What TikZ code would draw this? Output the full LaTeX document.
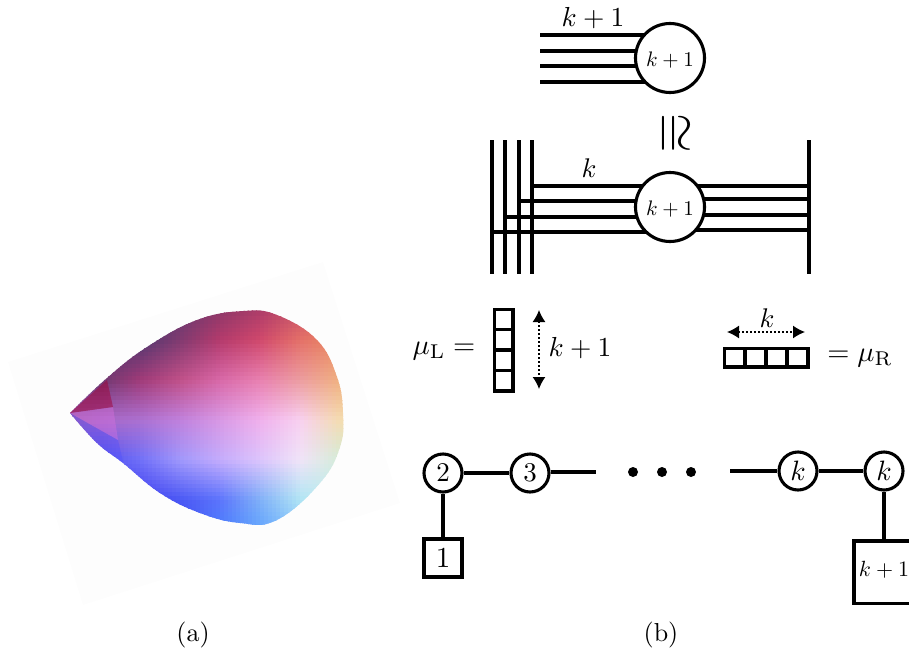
\documentclass[tikz,border=0pt]{standalone}
\usepackage{amsmath,amssymb}
\usetikzlibrary{arrows.meta,backgrounds,calc}
\pgfdeclarelayer{lines}
\pgfsetlayers{background,lines,main}
\definecolor{pagefaint}{HTML}{FDFDFD}
\tikzset{
  x=1pt,y=-1pt,
  qline/.style={draw=black,line width=3.6pt},
  ring/.style={circle,draw=black,line width=3.1pt,fill=white,inner sep=0pt,minimum size=#1},
  sq/.style={rectangle,draw=black,line width=3.6pt,fill=white,inner sep=0pt},
  lab/.style={inner sep=0pt,outer sep=0pt,scale=#1},
  dotarrow/.style={line width=1.3pt,dash pattern=on 1.3pt off 2.7pt,{Latex[length=12pt,width=13pt]}-{Latex[length=12pt,width=13pt]}}
}
% colour table for the surface: rows every 40 units from y=300, columns every 40 from x=60
\makeatletter
\def\splithex#1#2#3#4#5#6{%
  \expandafter\xdef\csname tR-\ii-\tblj\endcsname{\number"#1#2 }%
  \expandafter\xdef\csname tG-\ii-\tblj\endcsname{\number"#3#4 }%
  \expandafter\xdef\csname tB-\ii-\tblj\endcsname{\number"#5#6 }}
\newcommand\tblrow[2]{\def\tblj{#1}%
  \foreach \hx [count=\ii from 0] in {#2}{\expandafter\splithex\hx}}
\makeatother
\tblrow{0}{503070,503070,503070,603870,803868,A03868,C04868,D85860,D85860}
\tblrow{1}{583470,583470,503870,803A70,B43A6C,D0486C,E47068,EA8860,EA8860}
\tblrow{2}{783878,6C3870,A03A78,C05088,D868A8,E880B0,EC9CA0,F0B080,F0B080}
\tblrow{3}{9C60B0,A868C8,AC70D0,C080DC,D898E4,F0B0EC,F8D0F0,F4DCB0,F4DCB0}
\tblrow{4}{5050F0,5050F0,7070F8,A098FC,C4ACFC,DCC4FC,F0E4F8,D4ECD8,D4ECD8}
\tblrow{5}{4040F0,4040F0,4040F0,4A58F4,5C74FC,80B0F8,B0E4F4,C0F0F0,C0F0F0}
\tblrow{6}{4040F0,4040F0,4040F0,4048F0,4480FC,58A0FF,80C0FF,90D0F8,90D0F8}
\newcount\ci \newcount\cj \newcount\fx \newcount\fy
\newcommand\mixch[1]{\the\numexpr((40-\fx)*((40-\fy)*\csname t#1-\the\ci-\the\cj\endcsname
  +\fy*\csname t#1-\the\ci-\the\numexpr\cj+1\relax\endcsname)
  +\fx*((40-\fy)*\csname t#1-\the\numexpr\ci+1\relax-\the\cj\endcsname
  +\fy*\csname t#1-\the\numexpr\ci+1\relax-\the\numexpr\cj+1\relax\endcsname))/1600\relax}
\begin{document}
\begin{tikzpicture}
\useasboundingbox (0,0) rectangle (909,653);
% (a)
\fill[pagefaint] (323,262) -- (400,503) -- (83,605) -- (8,362) -- cycle;
\begin{scope}
\clip plot[smooth,tension=0.7] coordinates {(70,413) (107,378) (147,347) (197,320) (243,311) (277,315) (317,340) (337,377) (343,413) (340,447) (320,483) (277,520) (240,523) (200,513) (160,493) (123,463) (97,443) (70,413)} -- cycle;
\foreach \cx in {64,68,...,344}{
  \foreach \cy in {304,308,...,528}{
    \ci=\numexpr\cx-60+2\relax \divide\ci by 40
    \cj=\numexpr\cy-300+2\relax \divide\cj by 40
    \fx=\numexpr\cx+2-60-40*\ci\relax
    \fy=\numexpr\cy+2-300-40*\cj\relax
    \definecolor{cellc}{RGB}{\mixch{R},\mixch{G},\mixch{B}}
    \fill[cellc] (\cx,\cy) rectangle ++(4.5,4.5);
  }
}
\fill[fill=blue!70!white,opacity=.35] (70,413) -- (118,440) -- (125,470) -- (85,440) -- cycle;
\fill[fill=violet!40!magenta!55!white,opacity=.35] (70,413) -- (113,407) -- (118,440) -- cycle;
\fill[fill=purple!85!black,opacity=.5] (70,413) -- (107,380) -- (113,407) -- cycle;
\end{scope}
\node[lab=2.6] (capa) at (193,635) {(a)};
% top quiver
\node[ring=69pt] (topc) at (670,58) {};
\node[lab=2.1] (topl) at (670,60) {$k+1$};
\node[lab=2.75] (kp) at (593,18) {$k+1$};
\foreach \i/\y in {1/35,2/51,3/66,4/82}{
  \coordinate (ta\i) at (540,\y);
  \begin{pgfonlayer}{lines}
    \draw[qline] (ta\i) -- (ta\i -| topc.center);
  \end{pgfonlayer}
}
% isomorphism
\node[inner sep=0pt,rotate=-90] (iso) at (673,133) {\scalebox{5.1}[5.2]{$\cong$}};
% lower quiver
\node[ring=69pt] (midc) at (670,207) {};
\node[lab=2.1] (midl) at (670,209) {$k+1$};
\node[lab=2.7] (kk) at (589,168) {$k$};
\foreach \i/\x in {1/532,2/519,3/505,4/492}{
  \coordinate (vt\i) at (\x,140);
  \coordinate (vb\i) at (\x,274);
  \draw[qline] (vt\i) -- (vb\i);
}
\coordinate (rt) at (809,140);
\coordinate (rb) at (809,274);
\draw[qline] (rt) -- (rb);
\begin{pgfonlayer}{lines}
\foreach \i/\y/\yr in {1/186/186,2/201/199,3/217/215,4/232/230}{
  \coordinate (ls\i) at (vt\i |- 0,\y);
  \coordinate (rs\i) at (rt |- 0,\yr);
  \draw[qline] (ls\i) -- (ls\i -| midc.center);
  \draw[qline] (rs\i) -- (rs\i -| midc.center);
}
\end{pgfonlayer}
% tableaux
\foreach \y in {0,1,2,3}{
  \draw[line width=3.6pt] (494.3,{309.3+\y*20.35}) rectangle (512.7,{309.3+(\y+1)*20.35});
}
\foreach \x in {0,1,2,3}{
  \draw[line width=3.6pt] ({724.3+\x*20.85},348.3) rectangle ({724.3+(\x+1)*20.85},366.7);
}
\node[lab=2.85] (mul) at (444,351) {$\mu_{\mathrm{L}}=$};
\node[lab=2.75] (kpb) at (580,348) {$k+1$};
\coordinate (ua) at (539,310);
\coordinate (ub) at (539,389);
\draw[dotarrow] (ua) -- (ub);
\coordinate (ra) at (727,332);
\coordinate (rc) at (805,332);
\draw[dotarrow] (ra) -- (rc);
\node[lab=2.7] (kr) at (767,318) {$k$};
\node[lab=2.85] (mur) at (860,358) {$=\mu_{\mathrm{R}}$};
% quiver
\node[ring=38pt] (n2) at (443,473) {\scalebox{2.7}{$2$}};
\node[ring=38pt] (n3) at (530,473) {\scalebox{2.7}{$3$}};
\node[ring=38pt] (nk) at (798,471) {\scalebox{2.8}{$k$}};
\node[ring=38pt] (nl) at (884,471) {\scalebox{2.8}{$k$}};
\node[sq,minimum size=37.5pt] (s1) at (443,558) {\scalebox{2.9}{$1$}};
\node[sq,minimum width=65pt,minimum height=62.5pt,anchor=north west] (s2) at (852.3,539.3) {};
\node[lab=2.2] (s2l) at (884,570) {$k+1$};
\coordinate (st3) at (596,472);
\coordinate (stk) at (730,471);
\draw[qline] (n2) -- (n3);
\draw[qline] (n3.east |- st3) -- (st3);
\draw[qline] (stk) -- (nk.west |- stk);
\draw[qline] (nk) -- (nl);
\draw[qline] (n2) -- (s1);
\draw[qline] (nl) -- (nl |- s2.north);
\foreach \i/\x in {a/633,b/662,c/691}{
  \fill (\x,472) circle (5);
}
\node[lab=2.6] (capb) at (661,635) {(b)};
\end{tikzpicture}
\end{document}
